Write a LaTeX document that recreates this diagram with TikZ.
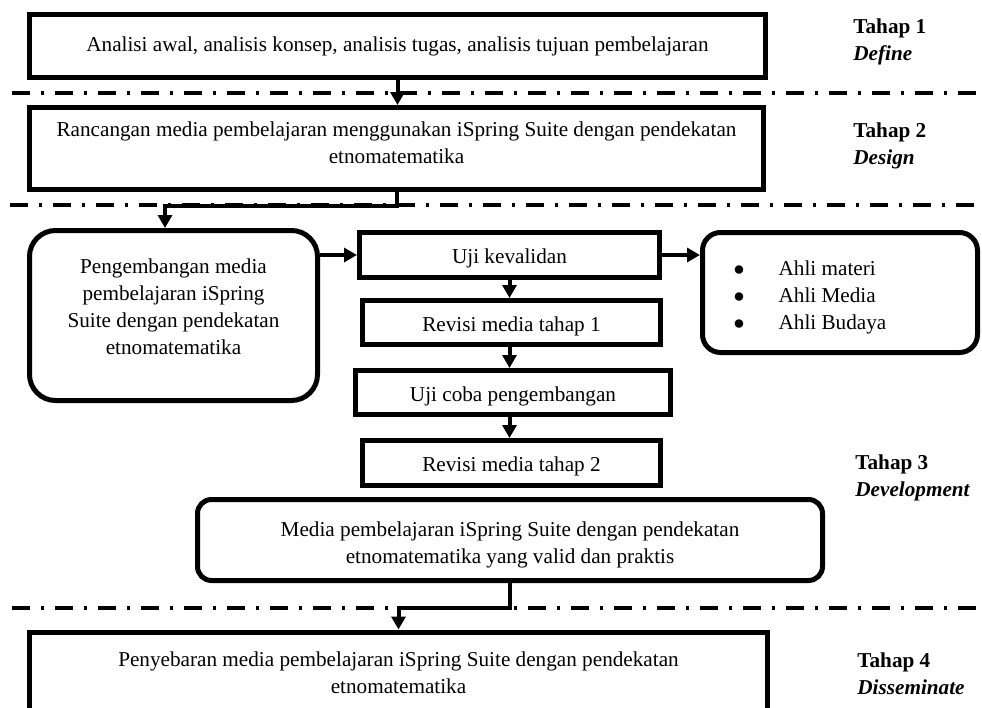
\documentclass[tikz,border=0pt]{standalone}
\usepackage{fontspec}
\setmainfont{Liberation Serif}
\usetikzlibrary{arrows.meta,positioning,calc}

\tikzset{
    box/.style={draw, line width=2.5pt, align=center, inner sep=0pt, font=\fontsize{10.6}{13.5}\selectfont},
    roundbox/.style={box, rounded corners=#1},
    smallbox/.style={box, text height=8.5pt, text depth=0pt},
    arr/.style={line width=2pt, -{Triangle[length=6.5pt,width=7pt]}},
    sepline/.style={line width=2.25pt, dash pattern=on 9pt off 5.5pt on 1.5pt off 5.5pt},
    tahap/.style={anchor=west, align=left, inner sep=0pt, font=\fontsize{10.6}{13.5}\selectfont\bfseries}
}

\begin{document}
\begin{tikzpicture}[x=0.5pt,y=-0.5pt]
    \useasboundingbox (0,0) rectangle (982,708);
    \clip (0,0) rectangle (982,708);

    % garis pemisah tahap
    \draw[sepline] (12,93) -- (982,93);
    \draw[sepline] (10,205) -- (982,205);
    \draw[sepline] (12,608) -- (982,608);

    \node[box, minimum width=368pt, minimum height=31.5pt] (define) at (397.5,46)
        {Analisi awal, analisis konsep, analisis tugas, analisis tujuan pembelajaran};
    \node[box, text depth=6pt, minimum width=367pt, minimum height=41pt] (design) at (396.5,148.5)
        {Rancangan media pembelajaran menggunakan iSpring Suite dengan pendekatan\\etnomatematika};
    \node[roundbox=13pt, text depth=9pt, minimum width=144pt, minimum height=85pt] (kembang) at (173.5,315.5)
        {Pengembangan media\\pembelajaran iSpring\\Suite dengan pendekatan\\etnomatematika};
    \node[smallbox, minimum width=150pt, minimum height=22.5pt] (valid) at (509.5,255) {Uji kevalidan};
    \node[roundbox=9pt, text depth=13pt, minimum width=137.5pt, minimum height=60pt] (ahli) at (840,292.5)
        {\begin{tabular}{@{}l@{\hspace{17pt}}l@{\hspace{30pt}}}
            $\bullet$ & Ahli materi\\
            $\bullet$ & Ahli Media\\
            $\bullet$ & Ahli Budaya
        \end{tabular}};
    \node[smallbox, minimum width=149pt, minimum height=22pt] (rev1) at (511.5,322.5) {Revisi media tahap 1};
    \node[smallbox, minimum width=157.5pt, minimum height=22pt] (coba) at (513,392.5) {Uji coba pengembangan};
    \node[smallbox, minimum width=149pt, minimum height=22.5pt] (rev2) at (511.5,463) {Revisi media tahap 2};
    \node[roundbox=7pt, text height=23pt, text depth=0pt, minimum width=312.5pt, minimum height=40.5pt] (hasil) at (510,540)
        {Media pembelajaran iSpring Suite dengan pendekatan\\etnomatematika yang valid dan praktis};
    \node[box, text depth=3pt, minimum width=369pt, minimum height=44pt] (sebar) at (398.5,676)
        {Penyebaran media pembelajaran iSpring Suite dengan pendekatan\\etnomatematika};

    \node[tahap] (t1) at (853,42) {Tahap 1\\\textit{Define}};
    \node[tahap] (t2) at (853,146) {Tahap 2\\\textit{Design}};
    \node[tahap] (t3) at (855,477.5) {Tahap 3\\\textit{Development}};
    \node[tahap] (t4) at (857,674) {Tahap 4\\\textit{Disseminate}};

    % panah
    \draw[arr] (define.south) -- (define.south |- design.north);
    \draw[arr] (design.south) -- ++(0,14) -| ([xshift=-4.25pt]kembang.north);
    \draw[arr] (kembang.east |- valid.west) -- (valid.west);
    \draw[arr] (valid.east) -- (valid.east -| ahli.west);
    \draw[arr] (valid.south) -- (valid.south |- rev1.north);
    \draw[arr] (rev1.south -| valid.south) -- (valid.south |- coba.north);
    \draw[arr] (coba.south -| valid.south) -- (valid.south |- rev2.north);
    \draw[arr] (hasil.south) -- ++(0,25) -| (sebar.north);
\end{tikzpicture}
\end{document}
